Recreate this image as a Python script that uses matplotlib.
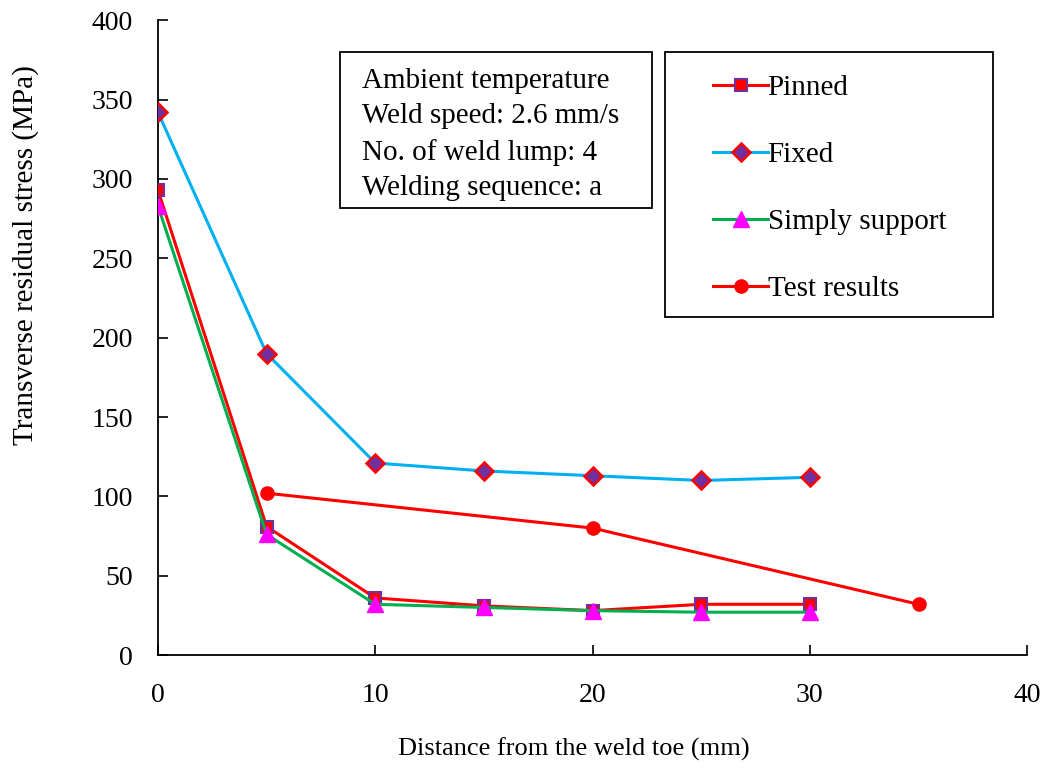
import matplotlib
matplotlib.use("Agg")
import matplotlib.pyplot as plt
from matplotlib.patches import Rectangle

plt.rcParams["font.family"] = ["Liberation Serif", "DejaVu Serif"]

# distances from the weld toe (mm)
x_model = [0, 5, 10, 15, 20, 25, 30]
x_test = [5, 20, 35]

# transverse residual stress (MPa)
pinned = [293, 81, 36, 31, 28, 32, 32]
fixed = [342, 190, 121, 116, 113, 110, 112]
simply = [283, 76, 32, 30, 28, 27, 27]
test = [102, 80, 32]

fig = plt.figure(figsize=(10.46, 7.78), dpi=100)
ax = fig.add_axes([0.151, 0.158, 0.831, 0.816])

ax.plot(x_model, pinned, color="#FF0000", lw=2.2, marker="s", ms=9,
        mfc="#FF0000", mec="#7030A0", mew=1.5, label="Pinned", zorder=4)
ax.plot(x_model, fixed, color="#00B0F0", lw=2.2, marker="D", ms=9.5,
        mfc="#7030A0", mec="#FF0000", mew=1.8, label="Fixed", zorder=3)
ax.plot(x_model, simply, color="#00B050", lw=2.2, marker="^", ms=11,
        mfc="#FF00FF", mec="#FF00FF", label="Simply support", zorder=5)
ax.plot(x_test, test, color="#FF0000", lw=2.2, marker="o", ms=9.5,
        mfc="#FF0000", mec="#FF0000", label="Test results", zorder=3)

ax.set_xlim(0, 40)
ax.set_ylim(0, 400)
ax.set_xticks(range(0, 41, 10))
ax.set_yticks(range(0, 401, 50))
ax.tick_params(direction="in", length=7, width=1.2, labelsize=20)
ax.tick_params(axis="y", pad=18)
ax.tick_params(axis="x", pad=20)
ax.spines["top"].set_visible(False)
ax.spines["right"].set_visible(False)
for s in ("left", "bottom"):
    ax.spines[s].set_linewidth(1.3)

ax.set_xlabel("Distance from the weld toe (mm)", fontsize=19)
ax.set_ylabel("Transverse residual stress (MPa)", fontsize=21)
ax.xaxis.set_label_coords(0.479, -0.13)
ax.yaxis.set_label_coords(-0.137, 0.63)

# note box
ax.add_patch(Rectangle((0.209, 0.704), 0.359, 0.246, transform=ax.transAxes,
                       fc="white", ec="black", lw=1.3, zorder=6))
ax.text(0.235, 0.925, "Ambient temperature\nWeld speed: 2.6 mm/s\n"
        "No. of weld lump: 4\nWelding sequence: a",
        transform=ax.transAxes, fontsize=21, va="top", ha="left",
        linespacing=1.47, zorder=7)

# legend box
ax.add_patch(Rectangle((0.583, 0.532), 0.378, 0.418, transform=ax.transAxes,
                       fc="white", ec="black", lw=1.3, zorder=6))
leg = ax.legend(loc="upper left", bbox_to_anchor=(0.639, 0.914),
                borderaxespad=0, borderpad=0, fontsize=21, frameon=False,
                labelspacing=1.39, handlelength=1.86, handletextpad=0.0)
leg.set_zorder(8)
for lh in leg.legend_handles:
    lh.set_linewidth(2.2)

fig.savefig("out.png", dpi=100)
